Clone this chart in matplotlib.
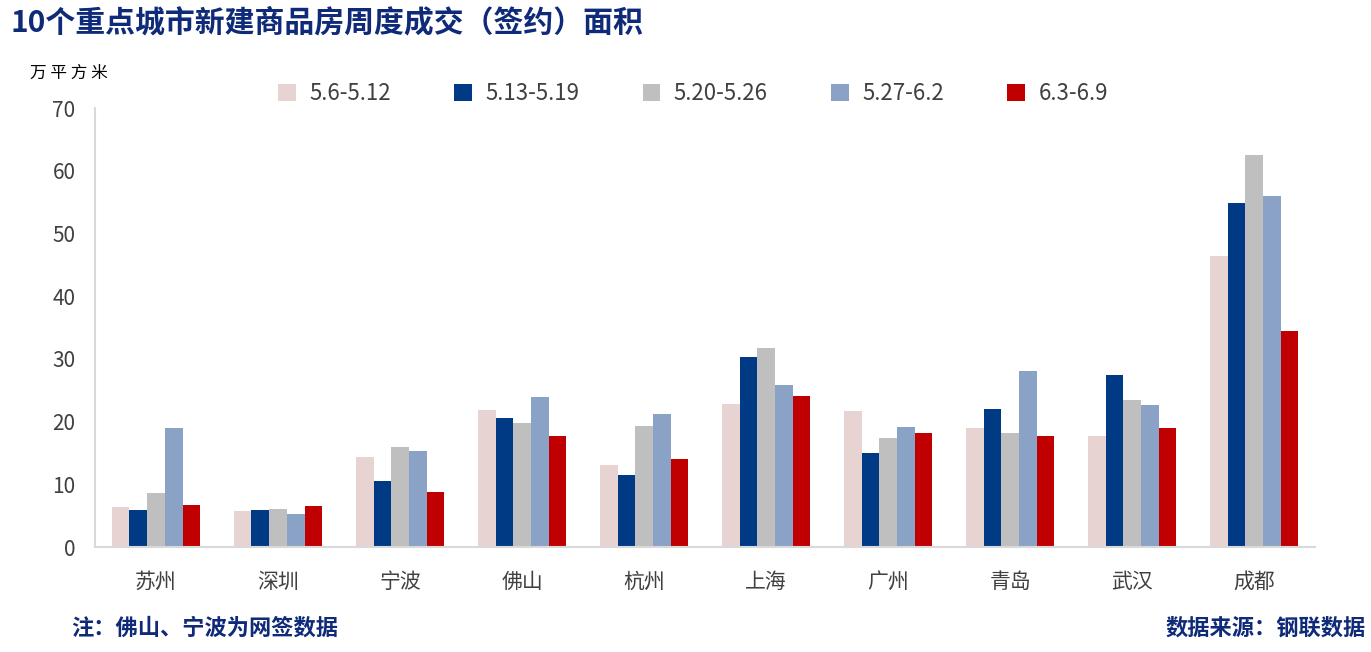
import matplotlib
matplotlib.use("Agg")
import matplotlib.pyplot as plt
import numpy as np

plt.rcParams['font.family'] = ['Noto Sans CJK SC', 'DejaVu Sans']

cities = ["苏州", "深圳", "宁波", "佛山", "杭州", "上海", "广州", "青岛", "武汉", "成都"]
weeks = ["5.6-5.12", "5.13-5.19", "5.20-5.26", "5.27-6.2", "6.3-6.9"]
w1 = [6.4, 5.7, 14.4, 21.9, 13.1, 22.8, 21.7, 19.0, 17.7, 46.4]
w2 = [5.9, 5.9, 10.5, 20.6, 11.5, 30.3, 15.0, 22.0, 27.4, 54.9]
w3 = [8.6, 6.1, 16.0, 19.8, 19.3, 31.7, 17.4, 18.2, 23.4, 62.5]
w4 = [19.0, 5.3, 15.3, 23.9, 21.2, 25.8, 19.1, 28.1, 22.6, 56.0]
w5 = [6.7, 6.5, 8.8, 17.7, 14.0, 24.1, 18.2, 17.7, 19.0, 34.4]
series = [w1, w2, w3, w4, w5]
colors = ["#E8D3D3", "#003A84", "#BFBFBF", "#8AA2C6", "#C00000"]
yticks = [0, 10, 20, 30, 40, 50, 60, 70]

fig = plt.figure(figsize=(13.71, 6.52), dpi=100)
ax = fig.add_axes([0.0693, 0.161, 0.890, 0.673])

x = np.arange(len(cities))
bw = 0.145
for i, (vals, c, lab) in enumerate(zip(series, colors, weeks)):
    ax.bar(x + (i - 2) * bw, vals, width=bw, color=c, label=lab, linewidth=0)

ax.set_xlim(-0.5, len(cities) - 0.5)
ax.set_ylim(0, 70)
ax.set_yticks(yticks)
ax.set_xticks(x)
ax.set_xticklabels(cities, fontsize=15, color="#404040")
ax.tick_params(axis='y', length=0, labelsize=15, labelcolor="#404040", pad=14)
ax.tick_params(axis='x', length=0, pad=17)
for s in ["top", "right"]:
    ax.spines[s].set_visible(False)
for s in ["left", "bottom"]:
    ax.spines[s].set_color("#D9D9D9")
    ax.spines[s].set_linewidth(1.5)

leg = ax.legend(loc="upper center", bbox_to_anchor=(0.49, 1.105), ncol=5, frameon=False,
                fontsize=16, handlelength=0.8, handleheight=0.8, columnspacing=2.85,
                handletextpad=0.6)
for t in leg.get_texts():
    t.set_color("#404040")

fig.text(0.008, 0.965, "10个重点城市新建商品房周度成交（签约）面积", fontsize=21.5,
         fontweight="bold", color="#0E2A78", va="center", ha="left")
fig.text(0.022, 0.888, "万 平 方 米", fontsize=12, color="#000000", va="center", ha="left")
fig.text(0.052, 0.037, "注：佛山、宁波为网签数据", fontsize=16, fontweight="bold",
         color="#0E2A78", va="center", ha="left")
fig.text(0.996, 0.037, "数据来源：钢联数据", fontsize=16, fontweight="bold",
         color="#0E2A78", va="center", ha="right")

fig.savefig("out.png", dpi=100)
